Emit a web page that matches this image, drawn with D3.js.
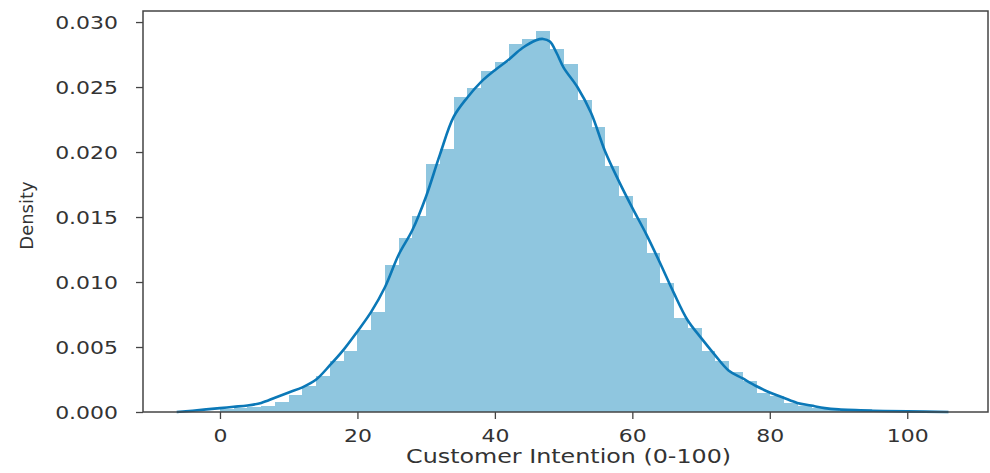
<!DOCTYPE html>
<html>
<head>
<meta charset="utf-8">
<script src="https://cdn.jsdelivr.net/npm/d3@7"></script>
<style>
  body { margin: 0; background: #fff; }
  text { font-family: "DejaVu Sans", sans-serif; fill: #333; }
</style>
</head>
<body>
<svg width="990" height="473"></svg>
<script>
const xAxisLabelText = 'Customer Intention (0-100)';
const yAxisLabelText = 'Density';

// histogram bins (left edge, width 2) and their density
const binStarts = [0, 2, 4, 6, 8, 10, 12, 14, 16, 18, 20, 22, 24, 26, 28, 30, 32, 34, 36, 38,
  40, 42, 44, 46, 48, 50, 52, 54, 56, 58, 60, 62, 64, 66, 68, 70, 72, 74, 76, 78,
  80, 82, 84, 86, 88, 90, 92, 94, 96, 98];
const binWidth = 2;
const binDensity = [0.0002, 0.0003, 0.0004, 0.0005, 0.0008, 0.0013, 0.0020, 0.0028, 0.0039, 0.0047,
  0.0063, 0.0077, 0.0113, 0.0134, 0.0151, 0.0191, 0.0202, 0.0242, 0.0249, 0.0262,
  0.0269, 0.0283, 0.0287, 0.0293, 0.0279, 0.0268, 0.0240, 0.0219, 0.0189, 0.0166,
  0.0149, 0.0122, 0.0099, 0.0072, 0.0065, 0.0047, 0.0039, 0.0031, 0.0024, 0.0015,
  0.0012, 0.0007, 0.0005, 0.0003, 0.0002, 0.0001, 0.0001, 0.00005, 0.00003, 0.00002];

// kde curve
const kdeX = [-6.3, -4, -2, 0, 2, 4, 6, 8, 10, 12, 14, 16, 18, 20, 22, 24, 26, 28, 30, 32,
  34, 36, 38, 40, 42, 44, 46, 47, 48, 49, 50, 52, 54, 56, 58, 60, 62, 64, 66, 68,
  70, 72, 74, 76, 78, 80, 82, 84, 86, 88, 90, 95, 100, 106];
const kdeY = [0.0000, 0.0001, 0.0002, 0.0003, 0.0004, 0.0005, 0.0007, 0.0011, 0.0015, 0.0019,
  0.0025, 0.0036, 0.0048, 0.0062, 0.0077, 0.0096, 0.0121, 0.0140, 0.0166, 0.0198,
  0.0227, 0.0242, 0.0254, 0.0263, 0.0271, 0.0280, 0.0286, 0.0287, 0.0285, 0.0276,
  0.0265, 0.0250, 0.0230, 0.0201, 0.0178, 0.0157, 0.0137, 0.0115, 0.0092, 0.0071,
  0.0057, 0.0044, 0.0032, 0.0026, 0.0020, 0.0015, 0.0011, 0.0007, 0.0005, 0.0003,
  0.0002, 0.0001, 0.00005, 0.0000];

const xTicks = [0, 20, 40, 60, 80, 100];
const yTicks = [0, 0.005, 0.010, 0.015, 0.020, 0.025, 0.030];

const svg = d3.select('svg');
const width = +svg.attr('width');
const height = +svg.attr('height');

const margin = { top: 11, right: 2, bottom: 61, left: 143 };
const innerWidth = width - margin.left - margin.right;
const innerHeight = height - margin.top - margin.bottom;

// the reference text is a bit wide, stretch glyphs horizontally
const stretch = sel => sel.each(function() {
  const len = this.getComputedTextLength();
  d3.select(this)
    .attr('textLength', len * 1.22)
    .attr('lengthAdjust', 'spacingAndGlyphs');
});

const xScale = d3.scaleLinear()
  .domain([-11.2, 111.75])
  .range([0, innerWidth]);

const yScale = d3.scaleLinear()
  .domain([0, 0.03085])
  .range([innerHeight, 0]);

const g = svg.append('g')
  .attr('transform', `translate(${margin.left},${margin.top})`);

// bars
g.selectAll('rect.bar').data(binStarts)
  .enter().append('rect')
    .attr('class', 'bar')
    .attr('x', d => xScale(d))
    .attr('width', d => xScale(d + binWidth) - xScale(d) + 0.5)
    .attr('y', (d, i) => yScale(binDensity[i]))
    .attr('height', (d, i) => innerHeight - yScale(binDensity[i]))
    .attr('fill', '#8fc6df')
    .attr('shape-rendering', 'crispEdges');

// kde
const line = d3.line()
  .x(d => xScale(d[0]))
  .y(d => yScale(d[1]))
  .curve(d3.curveCatmullRom);

g.append('path')
  .datum(kdeX.map((x, i) => [x, kdeY[i]]))
  .attr('d', line)
  .attr('fill', 'none')
  .attr('stroke', '#0b78b7')
  .attr('stroke-width', 2.6);

// axes
const xAxis = d3.axisBottom(xScale)
  .tickValues(xTicks)
  .tickFormat(d3.format('d'))
  .tickSize(7)
  .tickSizeOuter(0);

const yAxis = d3.axisLeft(yScale)
  .tickValues(yTicks)
  .tickFormat(d3.format('.3f'))
  .tickSize(7)
  .tickSizeOuter(0);

const xAxisG = g.append('g').call(xAxis)
  .attr('transform', `translate(0,${innerHeight})`);
xAxisG.select('.domain').remove();
xAxisG.selectAll('line').attr('stroke', '#444').attr('stroke-width', 1.3);
xAxisG.selectAll('text')
  .attr('y', 30)
  .attr('dy', 0)
  .style('font-size', '18px')
  .style('text-anchor', 'middle')
  .call(stretch);

const yAxisG = g.append('g').call(yAxis);
yAxisG.select('.domain').remove();
yAxisG.selectAll('line').attr('stroke', '#444').attr('stroke-width', 1.3);
yAxisG.selectAll('text')
  .attr('x', -25)
  .attr('dy', '0.35em')
  .style('font-size', '18px')
  .style('text-anchor', 'end')
  .call(stretch);

// frame
g.append('rect')
  .attr('width', innerWidth)
  .attr('height', innerHeight)
  .attr('fill', 'none')
  .attr('stroke', '#444')
  .attr('stroke-width', 1.5);

// axis labels
g.append('text')
  .attr('x', (xScale(0) + xScale(100)) / 2 + 5)
  .attr('y', innerHeight + 51)
  .style('font-size', '19.5px')
  .style('text-anchor', 'middle')
  .text(xAxisLabelText)
  .call(stretch);

g.append('text')
  .attr('transform', `translate(${-margin.left + 33},${innerHeight / 2 + 4}) rotate(-90)`)
  .style('font-size', '18px')
  .style('text-anchor', 'middle')
  .text(yAxisLabelText);
</script>
</body>
</html>
